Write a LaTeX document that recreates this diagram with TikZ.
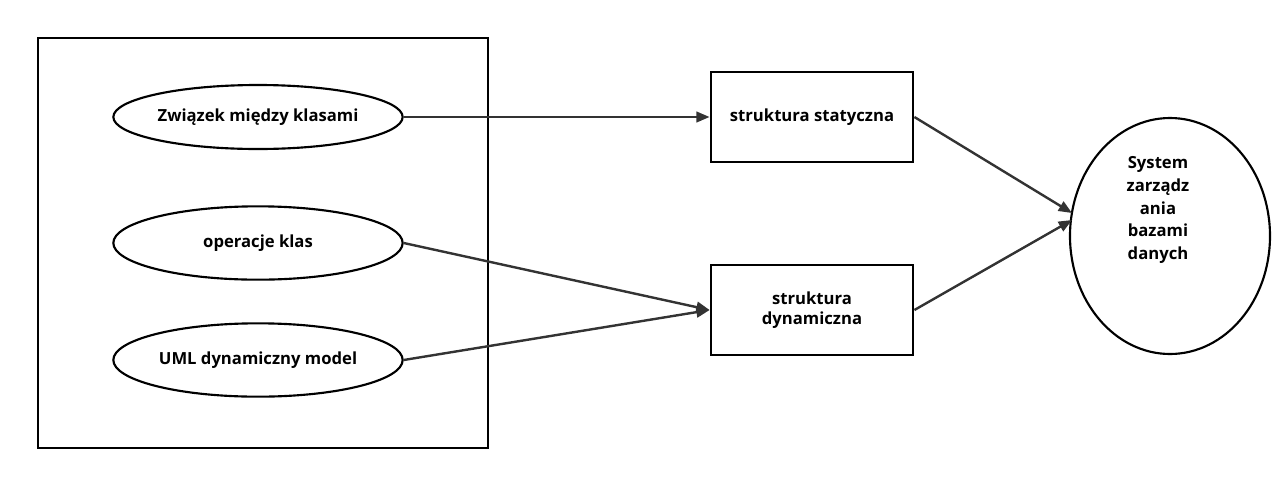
\documentclass[tikz,border=0pt]{standalone}
\usepackage{fontspec}
\setmainfont{Open Sans}
\usetikzlibrary{shapes.geometric,arrows.meta}
\tikzset{
 el/.style={ellipse,draw,line width=1.6pt,font=\fontsize{12.5}{15}\selectfont\bfseries,inner sep=0pt},
 bx/.style={rectangle,draw,line width=1.6pt,minimum width=152pt,minimum height=68pt,font=\fontsize{12.5}{15}\selectfont\bfseries,align=center},
 ar/.style={-{Triangle[length=10pt,width=8pt]},line width=1.8pt,draw={rgb,255:red,51;green,51;blue,51}}
}
\begin{document}
\begin{tikzpicture}[x=0.75pt,y=-0.75pt]
\useasboundingbox (0,0) rectangle (1275,486);
\node[draw,line width=1.6pt,minimum width=337.5pt,minimum height=307.5pt,inner sep=0pt] (frame) at (263,243) {};
\node[el,minimum width=217pt,minimum height=48pt] (e1) at (258,117) {Związek między klasami};
\node[el,minimum width=217pt,minimum height=55pt] (e2) at (258,243) {operacje klas};
\node[el,minimum width=217pt,minimum height=55pt] (e3) at (258,360) {UML dynamiczny model};
\node[bx] (s) at (812,117) {struktura statyczna};
\node[bx] (d) at (812,310) {struktura\\dynamiczna};
\node[el,minimum width=150pt,minimum height=177pt] (sys) at (1170,236) {};
\node[align=center,font=\fontsize{12.5}{17}\selectfont\bfseries] (systxt) at (1158,210) {System\\zarządz\\ania\\bazami\\danych};
\coordinate (t) at (1072,213);
\coordinate (t2) at (1072,220);
\draw[ar] (e1.east) -- (s.west);
\draw[ar] (e2.east) -- (d.west);
\draw[ar] (e3.east) -- (d.west);
\draw[ar] (s.east) -- (t);
\draw[ar] (d.east) -- (t2);
\end{tikzpicture}
\end{document}
